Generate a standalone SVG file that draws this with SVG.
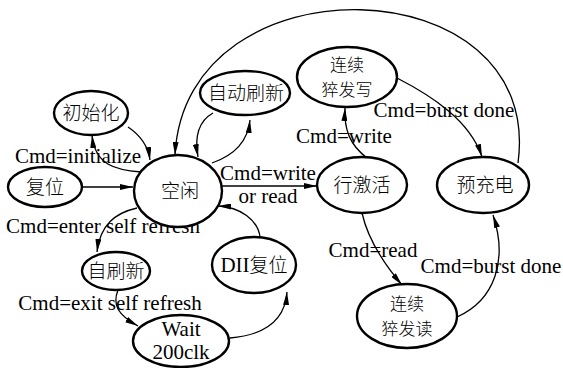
<svg xmlns="http://www.w3.org/2000/svg" width="563" height="368" viewBox="0 0 563 368">
<defs>
<style>
.n{fill:#fff;stroke:#000;stroke-width:2.4}
.t{font-family:"Liberation Serif","Times New Roman",serif;font-size:21px;fill:#000;text-anchor:middle}
.c{font-family:"Noto Sans CJK SC","Liberation Serif",sans-serif;font-size:19px;font-weight:300;fill:#000;text-anchor:middle}
.c2{font-family:"Noto Sans CJK SC","Liberation Serif",sans-serif;font-size:17px;font-weight:300;fill:#000;text-anchor:middle}
.e{fill:none;stroke:#000;stroke-width:1.3;marker-end:url(#arr)}
</style>
<marker id="arr" viewBox="0 0 13 6" refX="13" refY="3" markerWidth="13" markerHeight="6" markerUnits="userSpaceOnUse" orient="auto"><path d="M0,0 L13,3 L0,6 z" fill="#000"/></marker>
</defs>
<rect width="563" height="368" fill="#fff"/>
<g id="connectors">
<path class="e" d="M82,187 L133,187"/>
<path class="e" d="M141,172 C115,170 95,165 92,135"/>
<path class="e" d="M128,127 C140,135 148,145 150,160"/>
<path class="e" d="M213,113 C197,122 195,140 198,157"/>
<path class="e" d="M212,163 C235,155 248,140 250,120"/>
<path class="e" d="M222,186 L317,186"/>
<path class="e" d="M260,237 C258,220 240,207 218,206"/>
<path class="e" d="M137,208 C115,213 100,225 97,252"/>
<path class="e" d="M118,290 C112,305 118,315 138,326"/>
<path class="e" d="M230,338 C265,335 285,320 287,292"/>
<path class="e" d="M367,158 C350,145 344,130 345,108"/>
<path class="e" d="M397,78 C430,95 470,120 482,157"/>
<path class="e" d="M362,213 C368,240 385,265 402,285"/>
<path class="e" d="M457,317 C495,300 508,260 493,215"/>
<path class="e" d="M518,163 C545,-35 185,-45 175,155"/>
</g>
<g id="labels">
<text class="t" x="78" y="163">Cmd=initialize</text>
<text class="t" x="268" y="180">Cmd=write</text>
<text class="t" x="268" y="203">or read</text>
<text class="t" x="103" y="233">Cmd=enter self refresh</text>
<text class="t" x="110" y="310">Cmd=exit self refresh</text>
<text class="t" x="344" y="143">Cmd=write</text>
<text class="t" x="444" y="117">Cmd=burst done</text>
<text class="t" x="373" y="257">Cmd=read</text>
<text class="t" x="491" y="273">Cmd=burst done</text>
</g>
<g id="reset"><ellipse class="n" cx="45" cy="187" rx="37" ry="20"/><text class="c" x="45" y="194">复位</text></g>
<g id="idle"><ellipse class="n" cx="178" cy="191" rx="44" ry="36"/><text class="c" x="180" y="198">空闲</text></g>
<g id="init"><ellipse class="n" cx="91" cy="113" rx="37" ry="22"/><text class="c" x="91" y="120">初始化</text></g>
<g id="autorefresh"><ellipse class="n" cx="245" cy="93" rx="45" ry="22"/><text class="c" x="246" y="100">自动刷新</text></g>
<g id="burstwrite"><ellipse class="n" cx="347" cy="77" rx="50" ry="30"/><text class="c2" x="347" y="71">连续</text><text class="c2" x="347" y="96">猝发写</text></g>
<g id="activate"><ellipse class="n" cx="362" cy="185" rx="45" ry="28"/><text class="c" x="362" y="192">行激活</text></g>
<g id="precharge"><ellipse class="n" cx="483" cy="185" rx="46" ry="28"/><text class="c" x="485" y="192">预充电</text></g>
<g id="selfrefresh"><ellipse class="n" cx="116" cy="271" rx="34" ry="19"/><text class="c" x="116" y="278">自刷新</text></g>
<g id="dllreset"><ellipse class="n" cx="254" cy="265" rx="42" ry="28"/><text class="t" x="254" y="272"><tspan>DII</tspan><tspan font-family="Noto Sans CJK SC" font-size="19" font-weight="300">复位</tspan></text></g>
<g id="wait"><ellipse class="n" cx="181" cy="341" rx="48" ry="26"/><text class="t" x="181" y="336">Wait</text><text class="t" x="181" y="359">200clk</text></g>
<g id="burstread"><ellipse class="n" cx="407" cy="316" rx="50" ry="32"/><text class="c2" x="407" y="310">连续</text><text class="c2" x="407" y="335">猝发读</text></g>
</svg>
